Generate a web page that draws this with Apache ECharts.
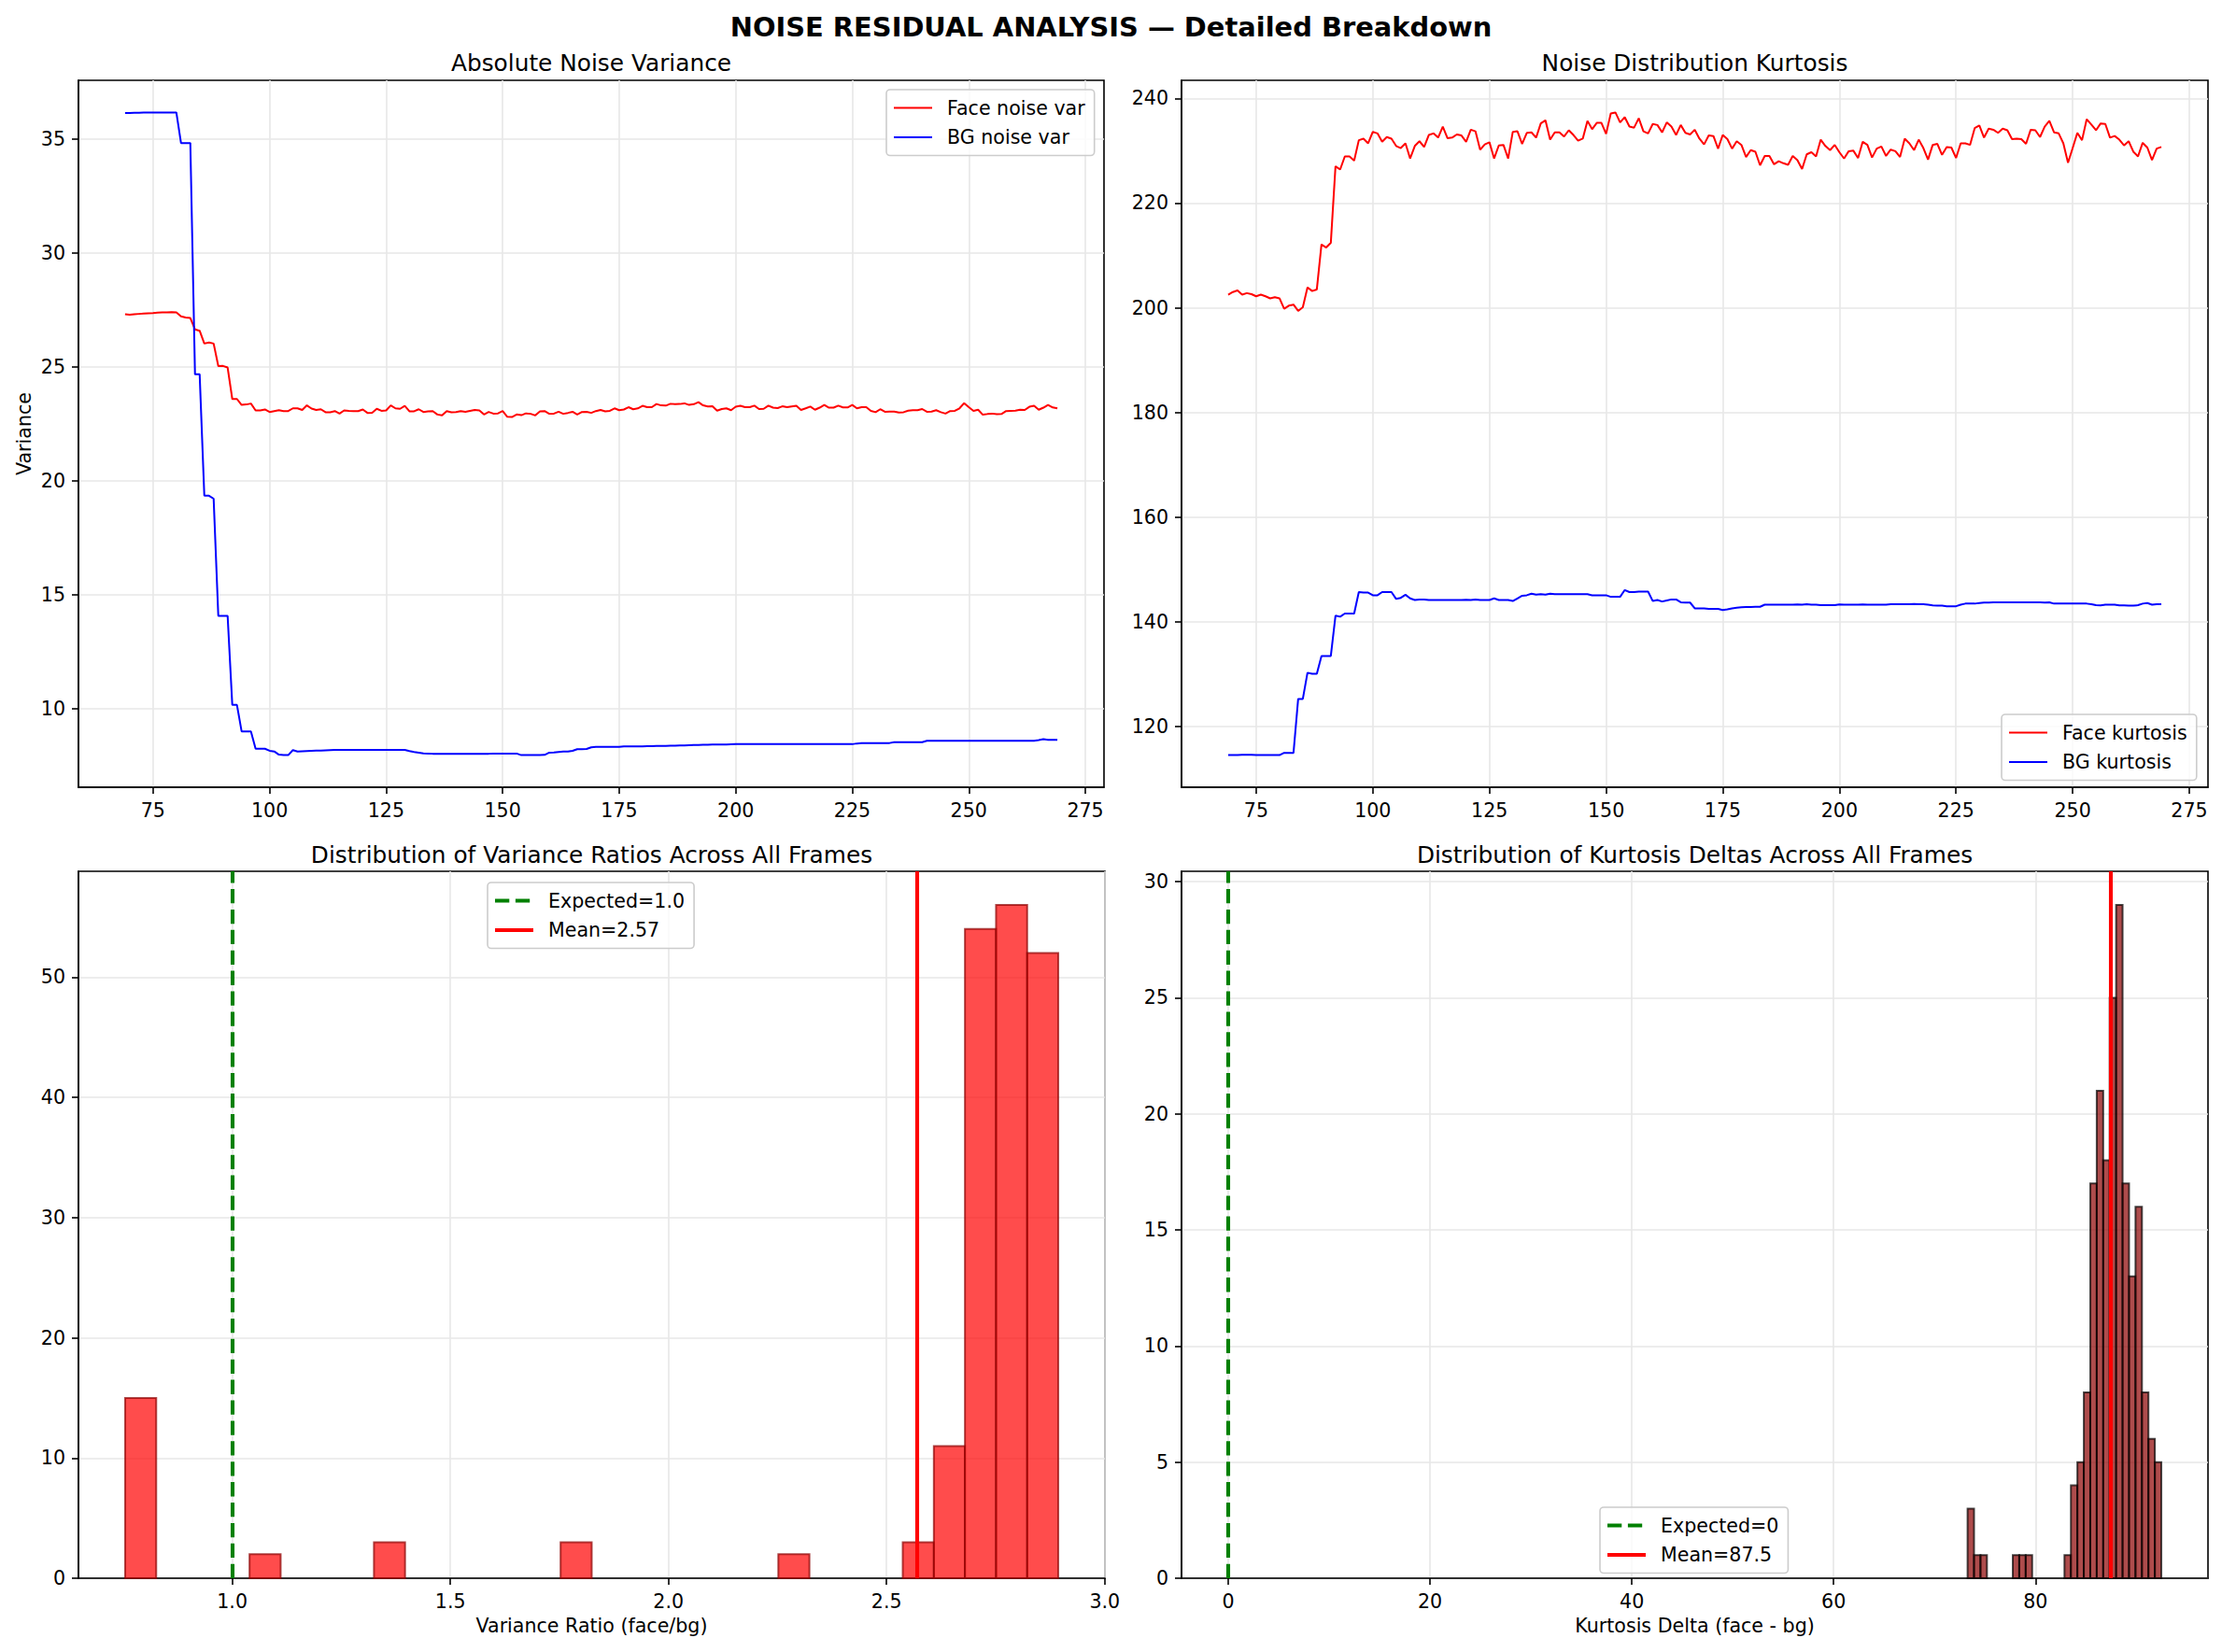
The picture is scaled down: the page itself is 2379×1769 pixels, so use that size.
<!DOCTYPE html>
<html><head><meta charset="utf-8">
<script src="https://cdn.jsdelivr.net/npm/echarts/dist/echarts.min.js"></script>
<style>html,body{margin:0;padding:0;background:#fff}#c{width:2379px;height:1769px}</style>
</head><body><div id="c"></div>
<script>
// ---------------- DATA ----------------
const frameStart = 69;
const faceNoiseVar = [
27.30,27.28,27.30,27.32,27.34,27.35,27.36,27.38,27.39,27.39,
27.40,27.39,27.21,27.16,27.14,26.64,26.58,26.02,26.07,26.02,
25.03,25.04,24.97,23.59,23.59,23.33,23.35,23.39,23.09,23.09,
23.13,23.02,23.06,23.10,23.06,23.06,23.18,23.18,23.11,23.31,
23.17,23.11,23.14,23.01,23.01,23.06,22.95,23.09,23.07,23.06,
23.06,23.13,22.98,22.99,23.16,23.07,23.09,23.31,23.18,23.16,
23.29,23.05,23.05,23.14,23.02,23.05,23.06,22.91,22.87,23.06,
23.01,23.02,23.06,23.03,23.07,23.11,23.09,22.91,23.02,22.95,
22.96,23.06,22.81,22.80,22.91,22.88,22.96,22.94,22.87,23.05,
23.06,22.94,22.95,23.03,22.94,22.98,23.03,22.91,23.02,23.03,
22.98,23.06,23.11,23.05,23.07,23.18,23.10,23.13,23.23,23.14,
23.18,23.29,23.23,23.23,23.37,23.31,23.30,23.38,23.36,23.37,
23.40,23.33,23.36,23.45,23.31,23.26,23.27,23.08,23.15,23.18,
23.10,23.25,23.29,23.23,23.23,23.30,23.15,23.16,23.30,23.21,
23.19,23.27,23.23,23.26,23.29,23.11,23.18,23.26,23.12,23.21,
23.33,23.21,23.21,23.30,23.22,23.22,23.33,23.18,23.23,23.23,
23.07,23.01,23.14,23.03,23.04,23.04,23.00,23.01,23.08,23.10,
23.10,23.15,23.03,23.04,23.10,23.01,22.95,23.06,23.07,23.18,
23.41,23.23,23.07,23.12,22.90,22.93,22.95,22.92,22.93,23.06,
23.07,23.08,23.12,23.11,23.25,23.29,23.12,23.21,23.33,23.22,
23.18];
const bgNoiseVar = [
36.13,36.13,36.14,36.14,36.15,36.15,36.15,36.15,36.15,36.15,
36.15,36.15,34.81,34.81,34.81,24.67,24.67,19.35,19.35,19.22,
14.08,14.08,14.08,10.18,10.18,9.02,9.02,9.02,8.26,8.26,
8.26,8.17,8.14,8.00,7.98,7.98,8.20,8.14,8.15,8.16,
8.17,8.18,8.18,8.19,8.20,8.21,8.21,8.21,8.21,8.21,
8.21,8.21,8.21,8.21,8.21,8.21,8.21,8.21,8.21,8.21,
8.21,8.16,8.12,8.09,8.06,8.05,8.04,8.04,8.04,8.04,
8.04,8.04,8.04,8.04,8.04,8.04,8.04,8.04,8.04,8.05,
8.05,8.05,8.05,8.05,8.05,7.98,7.98,7.98,7.98,7.98,
7.99,8.09,8.10,8.12,8.14,8.14,8.17,8.24,8.24,8.25,
8.32,8.34,8.34,8.34,8.34,8.34,8.34,8.36,8.36,8.36,
8.36,8.36,8.37,8.37,8.38,8.38,8.38,8.39,8.39,8.40,
8.40,8.41,8.42,8.42,8.43,8.43,8.44,8.44,8.44,8.44,
8.45,8.46,8.46,8.46,8.46,8.46,8.46,8.46,8.46,8.46,
8.46,8.46,8.46,8.46,8.46,8.46,8.46,8.46,8.46,8.46,
8.46,8.46,8.46,8.46,8.46,8.46,8.46,8.49,8.51,8.51,
8.51,8.51,8.51,8.51,8.51,8.55,8.55,8.55,8.55,8.55,
8.55,8.55,8.61,8.61,8.61,8.61,8.61,8.61,8.61,8.61,
8.61,8.61,8.61,8.61,8.61,8.61,8.61,8.61,8.61,8.61,
8.61,8.61,8.61,8.61,8.61,8.61,8.64,8.68,8.65,8.65,
8.65];
const faceKurtosis = [
202.5,203.0,203.3,202.5,202.8,202.6,202.2,202.5,202.2,201.8,
202.0,201.8,199.8,200.4,200.6,199.4,200.1,203.9,203.2,203.5,
212.1,211.5,212.4,227.0,226.4,228.9,228.9,228.1,232.0,232.3,
231.4,233.6,233.3,231.7,232.6,232.3,230.9,230.5,231.4,228.5,
230.9,231.8,230.7,233.0,233.3,232.5,234.6,232.4,232.5,233.1,
232.9,231.7,234.0,233.7,230.2,231.2,231.6,228.5,231.0,231.1,
228.5,233.6,233.7,231.3,233.4,233.5,232.5,235.2,235.8,232.1,
233.5,233.5,232.7,233.9,233.0,231.9,232.3,235.7,234.1,235.3,
235.3,233.2,237.1,237.3,235.4,236.4,234.6,234.4,236.2,233.7,
233.3,235.1,234.9,233.5,235.4,234.6,233.0,234.9,233.4,233.1,
234.0,232.3,231.2,232.9,232.8,230.4,233.0,232.2,230.4,231.8,
231.1,228.8,230.1,229.8,227.2,229.0,229.0,227.4,228.0,227.6,
227.3,229.0,228.2,226.5,229.3,229.7,228.9,232.1,230.9,230.1,
231.1,229.7,228.5,229.9,230.0,228.6,231.7,231.1,228.7,230.4,
230.8,229.0,230.2,229.9,228.8,232.3,231.4,230.1,232.1,230.5,
228.3,231.1,231.3,229.2,230.7,230.6,228.6,231.4,231.4,231.1,
234.3,234.8,232.5,234.2,234.0,233.4,234.2,233.9,232.2,232.3,
232.2,231.3,234.0,233.9,232.6,234.6,235.7,233.5,233.3,231.4,
227.7,230.5,233.4,232.0,236.0,235.0,233.9,235.2,235.1,232.5,
232.8,232.1,231.0,231.8,229.8,228.9,231.5,230.6,228.2,230.4,
230.7];
const bgKurtosis = [
114.57,114.57,114.6,114.65,114.65,114.65,114.6,114.57,114.57,114.57,
114.57,114.57,115.0,115.0,115.0,125.3,125.3,130.3,130.1,130.1,
133.5,133.5,133.5,141.2,141.0,141.6,141.6,141.6,145.7,145.6,
145.6,145.1,145.1,145.7,145.7,145.7,144.4,144.6,145.2,144.5,
144.2,144.3,144.3,144.2,144.2,144.2,144.2,144.2,144.2,144.2,
144.2,144.25,144.2,144.3,144.2,144.2,144.2,144.5,144.2,144.2,
144.2,144.0,144.5,145.0,145.1,145.4,145.2,145.3,145.2,145.4,
145.3,145.3,145.3,145.3,145.3,145.3,145.3,145.3,145.1,145.1,
145.1,145.1,144.8,144.8,144.8,146.1,145.7,145.7,145.8,145.8,
145.8,144.0,144.2,143.9,144.1,144.3,144.3,143.75,143.7,143.7,
142.6,142.6,142.6,142.5,142.5,142.5,142.26,142.4,142.6,142.7,
142.8,142.85,142.86,142.9,142.9,143.3,143.3,143.3,143.3,143.3,
143.3,143.3,143.35,143.3,143.4,143.3,143.3,143.2,143.2,143.2,
143.2,143.35,143.3,143.3,143.3,143.3,143.35,143.3,143.3,143.3,
143.3,143.3,143.4,143.4,143.4,143.4,143.4,143.45,143.4,143.4,
143.3,143.15,143.1,143.1,143.0,143.0,143.0,143.3,143.5,143.5,
143.5,143.6,143.7,143.7,143.75,143.75,143.75,143.75,143.75,143.75,
143.75,143.75,143.75,143.75,143.75,143.7,143.75,143.5,143.5,143.5,
143.5,143.5,143.5,143.5,143.5,143.4,143.2,143.15,143.3,143.3,
143.3,143.15,143.15,143.1,143.1,143.2,143.5,143.6,143.3,143.4,
143.4];

const ratioBinStart = 0.7545;
const ratioBinWidth = 0.0713;
const ratioCounts = [15,0,0,0,2,0,0,0,3,0,0,0,0,0,3,0,0,0,0,0,0,2,0,0,0,3,11,54,56,52];
const ratioExpected = 1.0;
const ratioMean = 2.566;

const deltaBinStart = 73.27;
const deltaBinWidth = 0.64;
const deltaCounts = [3,1,1,0,0,0,0,1,1,1,0,0,0,0,0,1,4,5,8,17,21,18,25,29,17,13,16,8,6,5];
const deltaExpected = 0;
const deltaMean = 87.46;

const frameTicks = [75,100,125,150,175,200,225,250,275];
const varTicks = [10,15,20,25,30,35];
const kurtTicks = [120,140,160,180,200,220,240];
const ratioTicks = [1.0,1.5,2.0,2.5,3.0];
const ratioCountTicks = [0,10,20,30,40,50];
const deltaTicks = [0,20,40,60,80];
const deltaCountTicks = [0,5,10,15,20,25,30];

// ---------------- BUILD ----------------
const FONT = 'DejaVu Sans';
const FS = 20.6;
const toPairs = arr => arr.map((v, i) => [frameStart + i, v]);
const toBins = (start, w, counts) => counts.map((c, i) => [start + i * w, start + (i + 1) * w, c]).filter(d => d[2] > 0);
const pad = (lo, hi) => { const m = (hi - lo) * 0.05; return [lo - m, hi + m]; };
const minOf = (...arrs) => Math.min(...arrs.map(a => Math.min(...a)));
const maxOf = (...arrs) => Math.max(...arrs.map(a => Math.max(...a)));

const frameEnd = frameStart + faceNoiseVar.length - 1;
const xFrame = pad(frameStart, frameEnd);
const yVar = pad(minOf(faceNoiseVar, bgNoiseVar), maxOf(faceNoiseVar, bgNoiseVar));
const yKurt = pad(minOf(faceKurtosis, bgKurtosis), maxOf(faceKurtosis, bgKurtosis));
const ratioBins = toBins(ratioBinStart, ratioBinWidth, ratioCounts);
const deltaBins = toBins(deltaBinStart, deltaBinWidth, deltaCounts);
const xRatio = pad(Math.min(ratioBinStart, ratioExpected, ratioMean), Math.max(ratioBinStart + ratioCounts.length * ratioBinWidth, ratioExpected, ratioMean));
const xDelta = pad(Math.min(deltaBinStart, deltaExpected, deltaMean), Math.max(deltaBinStart + deltaCounts.length * deltaBinWidth, deltaExpected, deltaMean));
const yRatioMax = Math.max(...ratioCounts) * 1.05;
const yDeltaMax = Math.max(...deltaCounts) * 1.05;

function axis(gridIndex, range, ticks, fmt, extra) {
  return Object.assign({
    type: 'value', gridIndex, min: range[0], max: range[1],
    axisLine: { show: true, onZero: false, lineStyle: { color: '#000', width: 1.6 } },
    axisTick: { show: true, length: 7, inside: false, customValues: ticks, lineStyle: { color: '#000', width: 1.6 } },
    axisLabel: { color: '#000', fontSize: FS, fontFamily: FONT, margin: 14, customValues: ticks, formatter: fmt },
    splitLine: { show: true, lineStyle: { color: '#e7e7e7', width: 1.6 } }
  }, extra || {});
}
const intFmt = v => String(Math.round(v));
const oneDec = v => v.toFixed(1);

const grids = [
  { left: 84, top: 86, width: 1098, height: 757 },
  { left: 1265, top: 86, width: 1099, height: 757 },
  { left: 84, top: 933, width: 1099, height: 757 },
  { left: 1265, top: 933, width: 1099, height: 757 }
].map(g => Object.assign(g, { show: true, borderColor: '#000', borderWidth: 1.6, backgroundColor: 'transparent', containLabel: false }));

const nameStyle = { color: '#000', fontSize: FS, fontFamily: FONT };
const xAxes = [
  axis(0, xFrame, frameTicks, intFmt),
  axis(1, xFrame, frameTicks, intFmt),
  axis(2, xRatio, ratioTicks, oneDec, { name: 'Variance Ratio (face/bg)', nameLocation: 'middle', nameGap: 40, nameTextStyle: nameStyle }),
  axis(3, xDelta, deltaTicks, intFmt, { name: 'Kurtosis Delta (face - bg)', nameLocation: 'middle', nameGap: 40, nameTextStyle: nameStyle })
];
const yAxes = [
  axis(0, yVar, varTicks, intFmt, { name: 'Variance', nameLocation: 'middle', nameGap: 48, nameTextStyle: nameStyle }),
  axis(1, yKurt, kurtTicks, intFmt),
  axis(2, [0, yRatioMax], ratioCountTicks, intFmt),
  axis(3, [0, yDeltaMax], deltaCountTicks, intFmt)
];

function lineSeries(name, data, color, idx) {
  return { type: 'line', name, data: toPairs(data), xAxisIndex: idx, yAxisIndex: idx,
    symbol: 'none', showSymbol: false, color, lineStyle: { color, width: 2 }, z: 3, animation: false };
}
function histSeries(name, bins, fill, stroke, idx) {
  return {
    type: 'custom', name, data: bins, xAxisIndex: idx, yAxisIndex: idx, encode: { x: [0, 1], y: 2 }, z: 2, animation: false,
    renderItem: (params, api) => {
      const p0 = api.coord([api.value(0), api.value(2)]);
      const p1 = api.coord([api.value(1), 0]);
      return { type: 'rect', shape: { x: p0[0], y: p0[1], width: p1[0] - p0[0], height: p1[1] - p0[1] },
        style: { fill, stroke, lineWidth: 2 } };
    }
  };
}
function vline(name, value, color, type, idx) {
  return {
    type: 'line', name, data: [], xAxisIndex: idx, yAxisIndex: idx, symbol: 'none', color, z: 5, animation: false,
    lineStyle: { color, width: 4.1, type },
    markLine: { silent: true, symbol: ['none', 'none'], label: { show: false }, animation: false,
      lineStyle: { color, width: 4.1, type }, data: [{ xAxis: value }] }
  };
}
const dash = [15.3, 6.6];
const nExpR = 'Expected=' + ratioExpected.toFixed(1);
const nMeanR = 'Mean=' + ratioMean.toFixed(2);
const nExpD = 'Expected=' + deltaExpected;
const nMeanD = 'Mean=' + deltaMean.toFixed(1);

const series = [
  lineSeries('Face noise var', faceNoiseVar, '#ff0000', 0),
  lineSeries('BG noise var', bgNoiseVar, '#0000ff', 0),
  lineSeries('Face kurtosis', faceKurtosis, '#ff0000', 1),
  lineSeries('BG kurtosis', bgKurtosis, '#0000ff', 1),
  histSeries('ratio hist', ratioBins, 'rgba(255,0,0,0.7)', 'rgba(139,0,0,0.7)', 2),
  vline(nExpR, ratioExpected, '#008000', dash, 2),
  vline(nMeanR, ratioMean, '#ff0000', 'solid', 2),
  histSeries('delta hist', deltaBins, 'rgba(139,0,0,0.7)', 'rgba(0,0,0,0.7)', 3),
  vline(nExpD, deltaExpected, '#008000', dash, 3),
  vline(nMeanD, deltaMean, '#ff0000', 'solid', 3)
];

// legend handle icons (line samples)
const ICON_THIN = 'path://M0 0H41V2H0Z';
const ICON_THICK = 'path://M0 0H41V4.1H0Z';
const ICON_DASH = 'path://M0 0H15.3V4.1H0Z M21.9 0H37.2V4.1H21.9Z M41 0L41 4.1';

function legend(items, left, top) {
  return {
    data: items, orient: 'vertical', left, top, padding: [9, 10, 9, 8], itemGap: 10.5,
    itemWidth: 41, itemHeight: 14, backgroundColor: 'rgba(255,255,255,0.8)', borderColor: '#cccccc',
    borderWidth: 1.6, borderRadius: 4, selectedMode: false, symbolKeepAspect: true,
    itemStyle: { borderWidth: 0 },
    textStyle: { fontSize: FS, color: '#000', fontFamily: FONT, padding: [0, 0, 0, 11] }
  };
}
const legends = [
  legend([{ name: 'Face noise var', icon: ICON_THIN }, { name: 'BG noise var', icon: ICON_THIN }], 949, 96),
  legend([{ name: 'Face kurtosis', icon: ICON_THIN }, { name: 'BG kurtosis', icon: ICON_THIN }], 2143, 765),
  legend([{ name: nExpR, icon: ICON_DASH }, { name: nMeanR, icon: ICON_THICK }], 522, 945),
  legend([{ name: nExpD, icon: ICON_DASH }, { name: nMeanD, icon: ICON_THICK }], 1713, 1614)
];

function txt(text, x, y, size, weight) {
  return { type: 'text', x, y, silent: true,
    style: { text, fontSize: size, fontWeight: weight || 'normal', fontFamily: FONT, fill: '#000', align: 'center', verticalAlign: 'middle' } };
}
const graphic = [
  txt('NOISE RESIDUAL ANALYSIS — Detailed Breakdown', 1189.5, 29, 28.9, 'bold'),
  txt('Absolute Noise Variance', 633, 67, 24.8),
  txt('Noise Distribution Kurtosis', 1814.5, 67, 24.8),
  txt('Distribution of Variance Ratios Across All Frames', 633.5, 915, 24.8),
  txt('Distribution of Kurtosis Deltas Across All Frames', 1814.5, 915, 24.8)
];

const chart = echarts.init(document.getElementById('c'), null, { renderer: 'svg' });
chart.setOption({
  backgroundColor: '#ffffff', animation: false,
  textStyle: { fontFamily: FONT },
  grid: grids, xAxis: xAxes, yAxis: yAxes, series, legend: legends, graphic
});
</script></body></html>
